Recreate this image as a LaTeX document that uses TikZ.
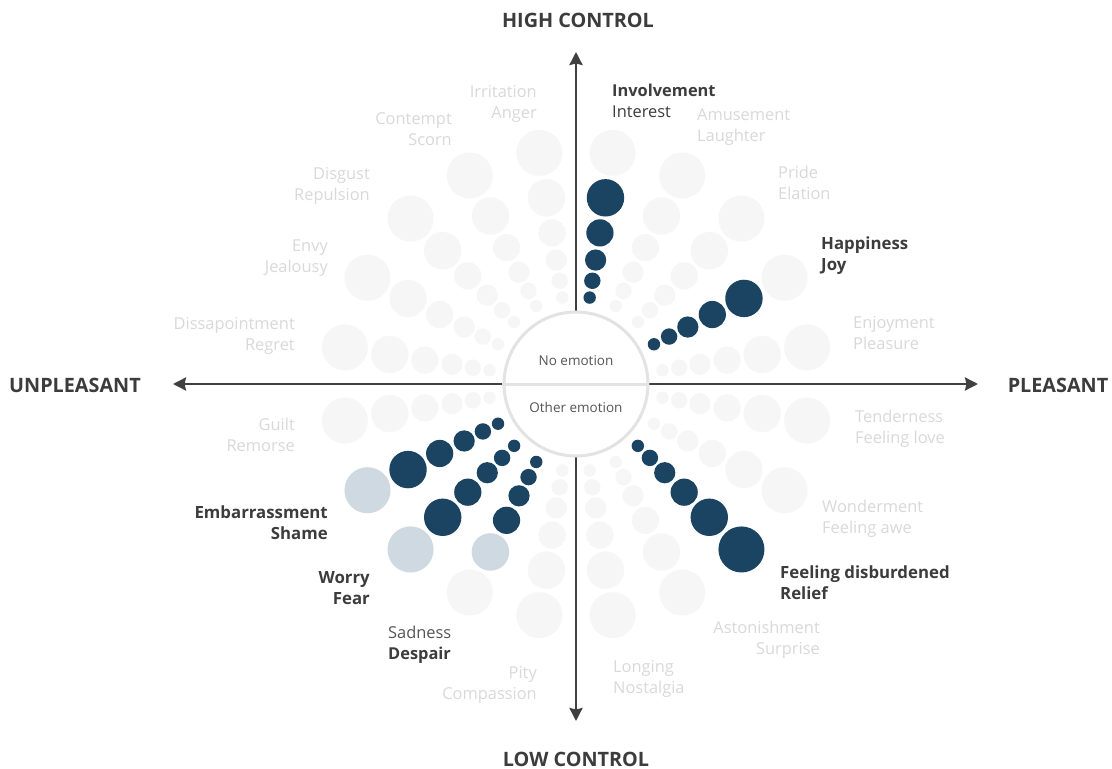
\documentclass[tikz,border=0pt]{standalone}
\usepackage{fontspec}
\setmainfont{Open Sans}
\usetikzlibrary{positioning}
\usetikzlibrary{arrows.meta}
\definecolor{dot}{HTML}{1A4461}
\definecolor{dotlight}{HTML}{CFD9E1}
\definecolor{dotpale}{HTML}{F6F6F6}
\definecolor{txtpale}{HTML}{D9D9D9}
\definecolor{txt}{HTML}{3C3C3C}
\definecolor{txtmid}{HTML}{555555}
\definecolor{axis}{HTML}{404040}
\definecolor{rim}{HTML}{E3E3E3}
\tikzset{>={Stealth[length=13pt,width=13pt,inset=1.5pt]}}
\tikzset{fam/.style={font=\fontsize{16.4}{21}\selectfont, text=txtpale, inner sep=0pt}}
\tikzset{famon/.style={fam, text=txt}}
\tikzset{fambold/.style={famon, font=\fontsize{16.8}{21}\selectfont\bfseries}}
\tikzset{famleft/.style={anchor=west, align=left}}
\tikzset{famright/.style={anchor=east, align=right}}
\tikzset{pole/.style={font=\fontsize{19.8}{23}\selectfont\bfseries, text=txt, inner sep=0pt}}
\tikzset{axisline/.style={<->, draw=axis, line width=2.6pt}}
% distance/radius of the six intensity rings
\def\rings{87.5/6.2, 104.5/8.2, 125.5/10.6, 153/13.6, 188.5/18.7, 234/23}

\begin{document}
\begin{tikzpicture}[x=1pt, y=1pt]
\useasboundingbox (-576,-385) rectangle (536,384);
\fill[white] (-576,-385) rectangle (536,384);

% twenty families, empty
\foreach \a in {9,27,...,351}
  \foreach \d/\r in \rings
    \fill[dotpale] (\a:\d) circle (\r);

% rated families: angle/number of filled rings
\foreach \a/\n in {81/5, 27/5, -45/6, 207/5, 225/5, 243/4}
  \foreach \d/\r [count=\i] in \rings
    {\ifnum\i>\n\else\fill[dot] (\a:\d) circle (\r);\fi}
\fill[dotlight] (207:234) circle (23);
\fill[dotlight] (225:234) circle (23);
\fill[dotlight] (243:188.5) circle (18.7);

% axes
\coordinate (w) at (-403,0);
\coordinate (e) at (402,0);
\coordinate (n) at (0,332);
\coordinate (s) at (0,-337);
\draw[axisline] (w) -- (e);
\draw[axisline] (s) -- (n);

\node (high) [pole] at (2,364) {HIGH CONTROL};
\node (low) [pole] at (0,-375) {LOW CONTROL};
\node (unpl) [pole] at (-501,-1) {UNPLEASANT};
\node (pl) [pole] at (482,-1) {PLEASANT};

% centre
\node (core) [circle, draw=rim, line width=3pt, fill=white, minimum size=144pt, inner sep=0pt] at (0,0) {};
\draw[rim, line width=3pt] (core.west) -- (core.east);
\node (none) [font=\fontsize{13.5}{16}\selectfont, text=txtmid] at (0,23) {No emotion};
\node (other) [font=\fontsize{13.5}{16}\selectfont, text=txtmid] at (0,-23) {Other emotion};

% family labels, right half
\node (interest) [famon, famleft] at (36,283.5) {\textbf{Involvement}\\Interest};
\node (laughter) [fam, famleft] at (121,256.5) {Amusement\\Laughter};
\node (elation) [fam, famleft] at (202,201) {Pride\\Elation};
\node (joy) [fambold, famleft] at (245,128.5) {Happiness\\Joy};
\node (pleasure) [fam, famleft] at (277,51) {Enjoyment\\Pleasure};
\node (love) [fam, famleft] at (279,-44.5) {Tenderness\\Feeling love};
\node (awe) [fam, famleft] at (246,-134.5) {Wonderment\\Feeling awe};
\node (relief) [fambold, famleft] at (204,-198.5) {Feeling disburdened\\Relief};
\node (surprise) [fam, famright] at (244,-255.5) {Astonishment\\Surprise};
\node (nostalgia) [fam, famleft] at (37,-294.5) {Longing\\Nostalgia};

% family labels, left half
\node (compassion) [fam, famright] at (-39,-300.5) {Pity\\Compassion};
\node (despair) [famon, famleft] at (-188,-260.5) {{\color{txtmid}Sadness}\\\textbf{Despair}};
\node (fear) [fambold, famright] at (-206,-204) {Worry\\Fear};
\node (shame) [fambold, famright] at (-248,-138.5) {Embarrassment\\Shame};
\node (remorse) [fam, famright] at (-281,-50.5) {Guilt\\Remorse};
\node (regret) [fam, famright] at (-281,48.5) {Dissapointment\\Regret};
\node (jealousy) [fam, famright] at (-248,125.5) {Envy\\Jealousy};
\node (repulsion) [fam, famright] at (-206,198.5) {Disgust\\Repulsion};
\node (scorn) [fam, famright] at (-124,254.5) {Contempt\\Scorn};
\node (anger) [fam, famright] at (-39,280.5) {Irritation\\Anger};
\end{tikzpicture}
\end{document}
